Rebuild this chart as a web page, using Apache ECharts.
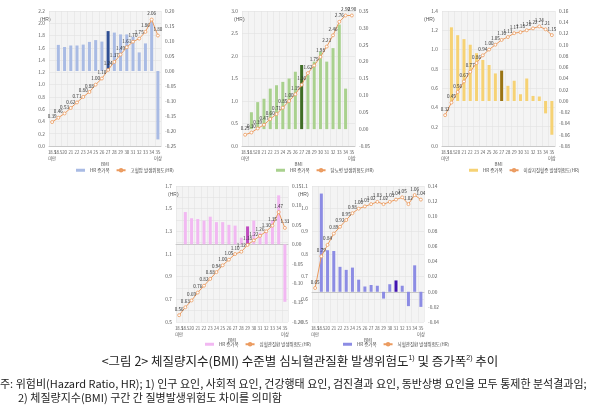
<!DOCTYPE html>
<html><head><meta charset="utf-8">
<script src="https://cdn.jsdelivr.net/npm/echarts@6.0.0/dist/echarts.min.js"></script>
<style>html,body{margin:0;padding:0;background:#fff}#c{width:600px;height:414px}</style>
</head><body><div id="c"></div>
<script>
// ---- data ----
const categories = ['18.5\n미만','18.5','20','21','22','23','24','25','26','27','28','29','30','31','32','33','34','35\n이상'];

const hrA  = [0.39,0.46,0.53,0.62,0.71,0.80,0.88,1.00,1.10,1.24,1.37,1.49,1.61,1.70,1.75,1.86,2.06,1.80];
const incA = [null,0.087,0.080,0.085,0.085,0.088,0.097,0.103,0.098,0.133,0.128,0.122,0.122,0.114,0.062,0.092,0.164,-0.228];

const hrB  = [0.25,0.30,0.39,0.47,0.60,0.71,0.85,1.00,1.15,1.36,1.62,1.79,1.98,2.21,2.46,2.76,2.90,2.90];
const incB = [null,0.05,0.08,0.09,0.12,0.13,0.14,0.15,0.17,0.19,0.16,0.20,0.23,0.20,0.24,0.31,0.12,null];

const hrC  = [0.32,0.45,0.56,0.67,0.77,0.86,0.94,1.00,1.05,1.10,1.13,1.17,1.18,1.20,1.22,1.24,1.21,1.15];
const incC = [null,0.131,0.117,0.110,0.100,0.085,0.073,0.064,0.049,0.054,0.027,0.036,0.012,0.040,0.009,0.008,-0.022,-0.060];

const hrD  = [0.56,0.63,0.69,0.76,0.82,0.88,0.94,1.00,1.05,1.10,1.12,1.18,1.22,1.26,1.30,1.35,1.47,1.33];
const incD = [null,0.083,0.067,0.065,0.061,0.071,0.057,0.057,0.050,0.048,0.017,0.046,0.061,0.030,0.035,0.061,0.126,-0.148];

const hrE  = [0.65,0.79,0.84,0.89,0.92,0.95,0.98,1.00,1.01,1.02,1.03,1.02,1.03,1.04,1.05,1.02,1.06,1.04];
const incE = [null,0.130,0.055,0.054,0.033,0.029,0.032,0.016,0.007,0.009,0.008,-0.009,0.010,0.015,0.008,-0.019,0.035,-0.020];

const barName = 'HR 증가폭';
const lineNames = ['고혈압 발생위험도(HR)','당뇨병 발생위험도(HR)','이상지질혈증 발생위험도(HR)','심혈관질환 발생위험도(HR)','뇌혈관질환 발생위험도(HR)'];
const leftAxisRanges  = [[0,2.2,0.2],[0,3.0,0.5],[0,1.4,0.2],[0.5,1.7,0.1],[0.5,1.1,0.1]];
const rightAxisRanges = [[-0.25,0.20,0.05],[-0.05,0.35,0.05],[-0.08,0.16,0.02],[-0.20,0.15,0.05],[-0.04,0.14,0.02]];
const highlightIndex = [9,9,9,11,13];

const titleText = '<그림 2> 체질량지수(BMI) 수준별 심뇌혈관질환 발생위험도{s|1)} 및 증가폭{s|2)} 추이';
const note1 = '주: 위험비(Hazard Ratio, HR); 1) 인구 요인, 사회적 요인, 건강행태 요인, 검진결과 요인, 동반상병 요인을 모두 통제한 분석결과임;';
const note2 = '2) 체질량지수(BMI) 구간 간 질병발생위험도 차이를 의미함';

// ---- layout / style ----
const hrs = [hrA,hrB,hrC,hrD,hrE];
const incs = [incA,incB,incC,incD,incE];
const keys = ['A','B','C','D','E'];
const grids = [
  {left:49, top:11, width:112, height:135},
  {left:242, top:11, width:113, height:135},
  {left:442, top:11, width:113, height:135},
  {left:176, top:186, width:112, height:136},
  {left:312, top:186, width:112, height:136}
];
const barColors = ['#a9bbe4','#a9d18e','#f6d274','#f2b8f2','#8c8ce4'];
const darkColors = ['#2f4f94','#3f6d26','#9a7414','#c04cc0','#4012b0'];
const legendPos = [[76,168],[276,168],[469,168],[205,342],[343,342]];
const hrPos = [[40,17],[234,17],[424,17],[168,192],[298,192]];
const lineColor = '#eb9a5e';
const leftLabelFmt = [
  v=>v.toFixed(1), v=>v.toFixed(1), v=>v.toFixed(1),
  v=>(Math.round(v*10)%2===1 ? v.toFixed(1) : ''), v=>v.toFixed(1)
];

const grid=[], xAxis=[], yAxis=[], series=[], legend=[], graphic=[];
for (let i=0;i<5;i++){
  const g = grids[i];
  grid.push({left:g.left, top:g.top, width:g.width, height:g.height, show:true,
    backgroundColor:'#f4f4f4', borderWidth:0, containLabel:false, outerBoundsMode:'none'});
  xAxis.push({type:'category', gridIndex:i, data:categories,
    axisLine:{lineStyle:{color:'#c8c8c8'}}, axisTick:{show:false},
    axisLabel:{fontSize:4.3, color:'#555', interval:0, margin:3, lineHeight:6},
    splitLine:{show:true, lineStyle:{color:'#e2e2e2', width:0.6}},
    name:'BMI', nameLocation:'middle', nameGap:16, nameTextStyle:{fontSize:4.5, color:'#555'}});
  const la = leftAxisRanges[i], ra = rightAxisRanges[i];
  yAxis.push({type:'value', gridIndex:i, min:la[0], max:la[1], interval:la[2], position:'left',
    axisLine:{show:false}, axisTick:{show:false},
    axisLabel:{fontSize:4.8, color:'#555', margin:4, formatter:leftLabelFmt[i]},
    splitLine:{show:true, lineStyle:{color:'#e0e0e0', width:0.6}}});
  yAxis.push({type:'value', gridIndex:i, min:ra[0], max:ra[1], interval:ra[2], position:'right',
    axisLine:{show:false}, axisTick:{show:false},
    axisLabel:{fontSize:4.8, color:'#555', margin:4, formatter:v=>v.toFixed(2)},
    splitLine:{show:false}});
  const bn = barName+'|'+keys[i], ln = lineNames[i]+'|'+keys[i];
  series.push({type:'bar', name:bn, xAxisIndex:i, yAxisIndex:2*i+1, barWidth:3,
    itemStyle:{color:barColors[i]},
    data: incs[i].map((v,j)=> j===highlightIndex[i] ? {value:v, itemStyle:{color:darkColors[i]}} : v)});
  series.push({type:'line', name:ln, xAxisIndex:i, yAxisIndex:2*i, data:hrs[i], z:5,
    symbol:'circle', symbolSize:3, showAllSymbol:true,
    lineStyle:{color:lineColor, width:1}, itemStyle:{color:'#fff', borderColor:lineColor, borderWidth:0.8},
    label:{show:true, position:'top', distance:2, fontSize:4.6, color:'#333', formatter:p=>p.value.toFixed(2)}});
  legend.push({data:[{name:bn, icon:'rect'},{name:ln}], left:legendPos[i][0], top:legendPos[i][1],
    itemWidth:9, itemHeight:3, itemGap:6, padding:0, selectedMode:false,
    textStyle:{fontSize:4.5, color:'#444'}, formatter:n=>n.split('|')[0]});
  graphic.push({type:'text', left:hrPos[i][0], top:hrPos[i][1], style:{text:'(HR)', fontSize:5, fill:'#555'}});
}
graphic.push({type:'text', left:'center', top:355,
  style:{text:titleText, fontSize:12.5, fill:'#222', fontFamily:'Noto Sans CJK KR',
    rich:{s:{fontSize:7, verticalAlign:'top', fill:'#222', padding:[0,0,5,0]}}}});
graphic.push({type:'text', left:0, top:378, style:{text:note1, fontSize:11, fill:'#222', fontFamily:'Noto Sans CJK KR'}});
graphic.push({type:'text', left:18, top:392, style:{text:note2, fontSize:11, fill:'#222', fontFamily:'Noto Sans CJK KR'}});

const chart = echarts.init(document.getElementById('c'), null, {renderer:'canvas'});
chart.setOption({animation:false, textStyle:{fontFamily:'Noto Sans CJK KR'},
  grid, xAxis, yAxis, series, legend, graphic});
</script></body></html>
